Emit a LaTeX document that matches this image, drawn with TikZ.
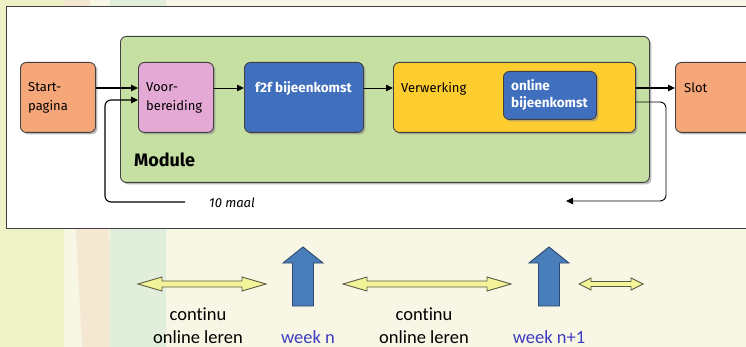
\documentclass[tikz,border=0pt]{standalone}
\usepackage{fontspec}
\setmainfont{Fira Sans}
\newfontfamily\calib[Ligatures=NoCommon]{Carlito}
\usetikzlibrary{shadows,arrows.meta}
\definecolor{bgcream}{HTML}{F8F7E6}
\definecolor{bgyellow}{HTML}{EEF2C6}
\definecolor{bgorange}{HTML}{F5E8D2}
\definecolor{bggreen}{HTML}{E1EEDB}
\definecolor{cstart}{HTML}{F5A77A}
\definecolor{cpink}{HTML}{E4A9D4}
\definecolor{cblue}{HTML}{3F6FBD}
\definecolor{cyellow}{HTML}{FDCC2E}
\definecolor{cgreen}{HTML}{C6E0A4}
\definecolor{edgegray}{HTML}{404040}
\definecolor{dblfill}{HTML}{F3F39A}
\definecolor{dbledge}{HTML}{5A5A40}
\definecolor{upfill}{HTML}{4A7EBB}
\definecolor{upedge}{HTML}{2C4A70}
\definecolor{weekblue}{HTML}{3C3CC0}
\tikzset{
  box/.style={draw=edgegray, line width=0.9pt, rounded corners=6pt, anchor=north west, inner sep=0pt,
    drop shadow={shadow xshift=2pt, shadow yshift=-2pt, fill=black!45, opacity=0.6}},
  boxtext/.style={anchor=base west, inner sep=0pt, font=\fontsize{13}{19}\selectfont, align=left},
  whitetext/.style={anchor=base west, inner sep=0pt, align=left, text=white, font=\bfseries\fontsize{13.5}{17}\selectfont},
  flow/.style={draw=black, line width=1.1pt, -{Triangle[length=7pt,width=6.5pt]}},
  thinflow/.style={draw=black, line width=0.8pt, -{Triangle[length=7pt,width=6.5pt]}},
  dblarrow/.style={fill=dblfill, draw=dbledge, line width=0.9pt, line join=miter},
  uparrow/.style={fill=upfill, draw=upedge, line width=0.9pt},
  bottomtext/.style={font=\calib\fontsize{18.5}{22}\selectfont, inner sep=0pt, anchor=base},
}
\begin{document}
\begin{tikzpicture}[x=1pt,y=-1pt]
\useasboundingbox (0,0) rectangle (746,347);
% background
\fill[bgcream] (0,0) rectangle (746,347);
\fill[bgyellow] (0,0) rectangle (64,347);
\fill[bgorange] (64,0) -- (90,0) -- (118,347) -- (82,347) -- cycle;
\fill[bggreen] (110,0) rectangle (166,347);
% white panel
\draw[fill=white, draw=edgegray, line width=1pt] (6,7) rectangle (760,229);
% module
\node[box, fill=cgreen, minimum width=529pt, minimum height=146pt] (module) at (120,36) {};
\node[anchor=base west, inner sep=0pt, font=\bfseries\fontsize{18}{21}\selectfont] (modlabel) at (134,167) {Module};
% boxes
\node[box, fill=cstart, minimum width=75pt, minimum height=70pt] (start) at (20,62) {};
\node[box, fill=cpink, minimum width=75pt, minimum height=70pt] (voor) at (138,62) {};
\node[box, fill=cblue, minimum width=119pt, minimum height=70pt] (f2f) at (244,62) {};
\node[box, fill=cyellow, minimum width=242pt, minimum height=70pt] (verw) at (393,62) {};
\node[box, fill=cblue, minimum width=93pt, minimum height=48pt] (online) at (503,71) {};
\node[box, fill=cstart, minimum width=80pt, minimum height=70pt] (slot) at (675,62) {};
% box texts (base = last line)
\node[boxtext] (tstart) at (28,111) {Start-\\pagina};
\node[boxtext] (tvoor) at (146,111) {Voor-\\bereiding};
\node[whitetext, anchor=base] (tf2f) at (303.5,93) {f2f bijeenkomst};
\node[boxtext] (tverw) at (401,93) {Verwerking};
\node[whitetext] (tonline) at (511,108) {online\\bijeenkomst};
\node[boxtext] (tslot) at (684,93) {Slot};
% connectors
\draw[flow] (start.east |- 0,88) -- (voor.west |- 0,88);
\draw[thinflow] (voor.east |- 0,88) -- (f2f.west |- 0,88);
\draw[thinflow] (f2f.east |- 0,88) -- (verw.west |- 0,88);
\draw[flow] (verw.east |- 0,88) -- (slot.west |- 0,88);
\coordinate (loopL) at (185,202);
\coordinate (loopR) at (566,201);
\draw[flow, rounded corners=6pt] (loopL) -- (105,202) -- (105,100) -- (voor.west |- 0,100);
\draw[flow, line width=0.9pt, rounded corners=6pt] (verw.east |- 0,102) -- (666,102) -- (666,201) -- (loopR);
\node[anchor=base west, inner sep=0pt, font=\itshape\fontsize{13}{15}\selectfont] (maal) at (209,208) {10 maal};
% bottom arrows
\newcommand{\dblarr}[3]{% x1, x2, y
  \draw[dblarrow] (#1,#3) -- (#1+24,#3-7) -- (#1+24,#3-3) -- (#2-24,#3-3) -- (#2-24,#3-7) -- (#2,#3)
    -- (#2-24,#3+7) -- (#2-24,#3+3) -- (#1+24,#3+3) -- (#1+24,#3+7) -- cycle;}
\newcommand{\uparr}[1]{% center x
  \draw[uparrow] (#1,247) -- (#1+20,263) -- (#1+10.5,263) -- (#1+10.5,306) -- (#1-10.5,306) -- (#1-10.5,263) -- (#1-20,263) -- cycle;}
\dblarr{138}{266}{284}
\dblarr{343}{511}{284}
\draw[dblarrow] (579,284) -- (591,278) -- (591,281.5) -- (631,281.5) -- (631,278) -- (643,284) -- (631,290) -- (631,286.5) -- (591,286.5) -- (591,290) -- cycle;
\uparr{303}
\uparr{549}
\node[bottomtext] (c1) at (198,320) {continu};
\node[bottomtext] (o1) at (198,343) {online leren};
\node[bottomtext, text=weekblue] (w1) at (308,343) {week n};
\node[bottomtext] (c2) at (424,320) {continu};
\node[bottomtext] (o2) at (424,343) {online leren};
\node[bottomtext, text=weekblue] (w2) at (549,343) {week n+1};
\end{tikzpicture}
\end{document}
